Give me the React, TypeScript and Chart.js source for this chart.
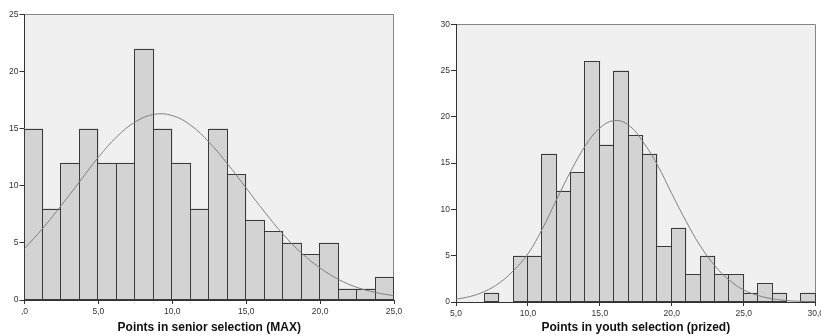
import React, { useEffect, useRef } from 'react';
import { Chart, registerables } from 'chart.js';

Chart.register(...registerables);

// ---------- Left chart: Points in senior selection (MAX) ----------
const seniorBinStarts = [0, 1.25, 2.5, 3.75, 5, 6.25, 7.5, 8.75, 10, 11.25, 12.5, 13.75, 15, 16.25, 17.5, 18.75, 20, 21.25, 22.5, 23.75];
const seniorBinWidth = 1.25;
const seniorCounts = [15, 8, 12, 15, 12, 12, 22, 15, 12, 8, 15, 11, 7, 6, 5, 4, 5, 1, 1, 2];
const seniorCurveX = [0, 1.25, 2.5, 3.75, 5, 6.25, 7.5, 8.75, 10, 11.25, 12.5, 13.75, 15, 16.25, 17.5, 18.75, 20, 21.25, 22.5, 23.75, 25];
const seniorCurveY = [4.5, 6.3, 8.3, 10.4, 12.5, 14.3, 15.6, 16.25, 16.15, 15.3, 13.8, 11.9, 9.8, 7.7, 5.75, 4.1, 2.8, 1.8, 1.1, 0.66, 0.37];
const seniorXTicks = [0, 5, 10, 15, 20, 25];
const seniorXTickLabels = [',0', '5,0', '10,0', '15,0', '20,0', '25,0'];
const seniorYMax = 25;
const seniorTitle = 'Points in senior selection (MAX)';

// ---------- Right chart: Points in youth selection (prized) ----------
const youthBinStarts = [7, 9, 10, 11, 12, 13, 14, 15, 16, 17, 18, 19, 20, 21, 22, 23, 24, 25, 26, 27, 29];
const youthBinWidth = 1;
const youthCounts = [1, 5, 5, 16, 12, 14, 26, 17, 25, 18, 16, 6, 8, 3, 5, 3, 3, 1, 2, 1, 1];
const youthCurveX = [5, 6, 7, 8, 9, 10, 11, 12, 13, 14, 15, 16, 17, 18, 19, 20, 21, 22, 23, 24, 25, 26, 27, 28, 29, 30];
const youthCurveY = [0.3, 0.6, 1.15, 2.05, 3.4, 5.2, 7.9, 11.1, 14.2, 16.9, 18.8, 19.6, 19.1, 17.3, 14.8, 11.7, 8.7, 6.0, 3.9, 2.35, 1.3, 0.7, 0.34, 0.16, 0.07, 0.03];
const youthXTicks = [5, 10, 15, 20, 25, 30];
const youthXTickLabels = ['5,0', '10,0', '15,0', '20,0', '25,0', '30,0'];
const youthYMax = 30;
const youthTitle = 'Points in youth selection (prized)';

const FONT = "'Liberation Sans', Arial, Helvetica, sans-serif";

const histPlugin = {
  id: 'histFrame',
  beforeDraw(chart: any) {
    const { ctx, chartArea } = chart;
    const { left, top, right, bottom } = chartArea;
    ctx.save();
    ctx.fillStyle = '#f0f0f0';
    ctx.fillRect(left, top, right - left, bottom - top);
    ctx.strokeStyle = '#858585';
    ctx.lineWidth = 1;
    ctx.beginPath();
    const ty = Math.floor(top) + 0.5;
    const rx = Math.round(right) - 0.5;
    ctx.moveTo(left, ty);
    ctx.lineTo(rx, ty);
    ctx.lineTo(rx, bottom);
    ctx.stroke();
    ctx.restore();
  },
  afterDatasetDraw(chart: any, args: any) {
    if (args.meta.type !== 'bar') return;
    const ctx = chart.ctx;
    ctx.save();
    ctx.strokeStyle = '#3a3a3a';
    ctx.lineWidth = 1;
    args.meta.data.forEach((el: any) => {
      const p = el.getProps(['x', 'y', 'base', 'width'], true);
      if (!isFinite(p.y) || Math.abs(p.base - p.y) < 0.5) return;
      const l = Math.round(p.x - p.width / 2) - 0.5;
      const r = Math.round(p.x + p.width / 2) - 0.5;
      const t = Math.round(p.y) + 0.5;
      const b = Math.round(p.base) - 0.5;
      ctx.strokeRect(l, t, r - l, b - t);
    });
    ctx.restore();
  },
};

type HistProps = {
  width: number;
  binStarts: number[];
  binWidth: number;
  counts: number[];
  curveX: number[];
  curveY: number[];
  xTicks: number[];
  xTickLabels: string[];
  yMax: number;
  title: string;
  pad: { left: number; right: number; top: number };
  yAxisWidth: number;
  xAxisHeight: number;
  titlePadBottom: number;
};

function Histogram(props: HistProps) {
  const ref = useRef<HTMLCanvasElement>(null);
  useEffect(() => {
    if (!ref.current) return;
    const barData = props.binStarts.map((s, i) => ({ x: s + props.binWidth / 2, y: props.counts[i] }));
    const lineData = props.curveX.map((x, i) => ({ x, y: props.curveY[i] }));
    const chart = new Chart(ref.current, {
      type: 'bar',
      data: {
        datasets: [
          {
            type: 'line',
            data: lineData,
            borderColor: '#808080',
            borderWidth: 1,
            pointRadius: 0,
            tension: 0.4,
            fill: false,
            order: 0,
          } as any,
          {
            type: 'bar',
            data: barData,
            backgroundColor: '#d3d3d3',
            borderWidth: 0,
            barPercentage: 1,
            categoryPercentage: 1,
            order: 1,
          } as any,
        ],
      },
      options: {
        animation: false,
        responsive: false,
        events: [],
        layout: { padding: { left: props.pad.left, right: props.pad.right, top: props.pad.top, bottom: 0 } },
        plugins: { legend: { display: false }, tooltip: { enabled: false }, title: { display: false } },
        scales: {
          x: {
            type: 'linear',
            min: props.xTicks[0],
            max: props.xTicks[props.xTicks.length - 1],
            offset: false,
            grid: { display: true, drawOnChartArea: false, drawTicks: true, tickLength: 4, color: '#333333', offset: false },
            border: { display: true, color: '#333333', width: 1 },
            afterBuildTicks: (scale: any) => {
              scale.ticks = props.xTicks.map((v) => ({ value: v }));
            },
            afterFit: (scale: any) => {
              scale.height = props.xAxisHeight;
              scale.paddingLeft = 0;
              scale.paddingRight = 0;
            },
            ticks: {
              autoSkip: false,
              maxRotation: 0,
              padding: 3,
              color: '#333333',
              font: { family: FONT, size: 8.5 },
              callback: (_v: any, i: number) => props.xTickLabels[i],
            },
            title: {
              display: true,
              text: props.title,
              color: '#111111',
              font: { family: FONT, size: 12, weight: 'bold' },
              padding: { top: 0, bottom: props.titlePadBottom },
            },
          } as any,
          y: {
            type: 'linear',
            min: 0,
            max: props.yMax,
            grid: { display: true, drawOnChartArea: false, drawTicks: true, tickLength: 5, color: '#333333' },
            border: { display: true, color: '#333333', width: 1 },
            afterFit: (scale: any) => {
              scale.width = props.yAxisWidth;
            },
            ticks: {
              stepSize: 5,
              padding: 1,
              color: '#333333',
              font: { family: FONT, size: 8.5 },
            },
          } as any,
        },
      },
      plugins: [histPlugin],
    });
    return () => chart.destroy();
  }, []);
  return <canvas ref={ref} width={props.width} height={336} style={{ display: 'block', width: props.width, height: 336 }} />;
}

export default function App() {
  return (
    <div style={{ position: 'absolute', left: 0, top: 0, width: 821, height: 336, overflow: 'hidden', background: '#ffffff', display: 'flex' }}>
      <Histogram
        width={410}
        binStarts={seniorBinStarts}
        binWidth={seniorBinWidth}
        counts={seniorCounts}
        curveX={seniorCurveX}
        curveY={seniorCurveY}
        xTicks={seniorXTicks}
        xTickLabels={seniorXTickLabels}
        yMax={seniorYMax}
        title={seniorTitle}
        pad={{ left: 0, right: 16, top: 14.5 }}
        yAxisWidth={24.5}
        xAxisHeight={36}
        titlePadBottom={1}
      />
      <Histogram
        width={411}
        binStarts={youthBinStarts}
        binWidth={youthBinWidth}
        counts={youthCounts}
        curveX={youthCurveX}
        curveY={youthCurveY}
        xTicks={youthXTicks}
        xTickLabels={youthXTickLabels}
        yMax={youthYMax}
        title={youthTitle}
        pad={{ left: 26, right: 5.3, top: 24.3 }}
        yAxisWidth={20}
        xAxisHeight={34}
        titlePadBottom={1.5}
      />
    </div>
  );
}
